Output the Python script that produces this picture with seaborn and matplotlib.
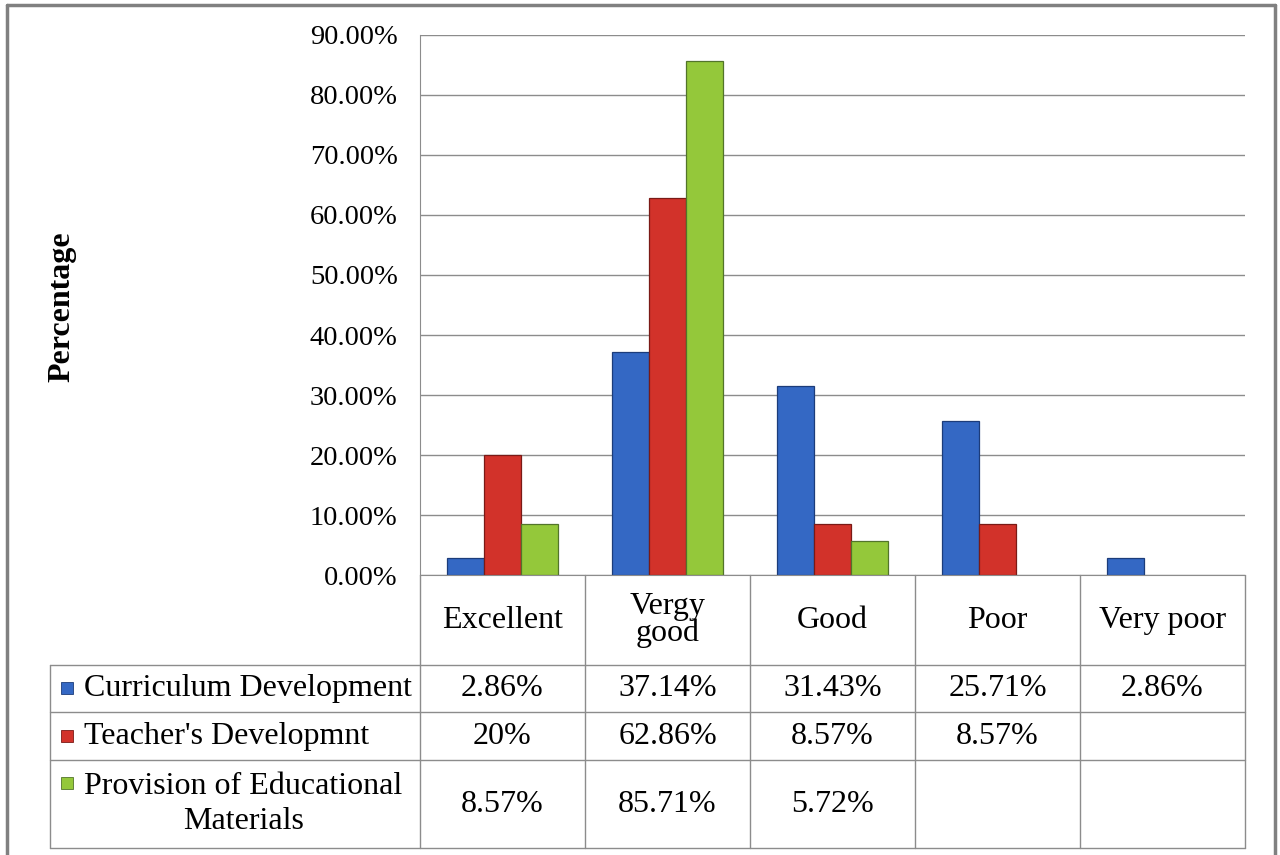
import numpy as np
import pandas as pd
import matplotlib
matplotlib.use("Agg")
import matplotlib.pyplot as plt
from matplotlib.patches import Rectangle
from matplotlib.lines import Line2D
import matplotlib.transforms as mtransforms
import seaborn as sns

# datos
categorias = ["Excellent", "Vergy\ngood", "Good", "Poor", "Very poor"]
series = ["Curriculum Development", "Teacher's Developmnt",
          "Provision of Educational\nMaterials"]
curriculum = [2.86, 37.14, 31.43, 25.71, 2.86]
teacher = [20, 62.86, 8.57, 8.57, None]
provision = [8.57, 85.71, 5.72, None, None]
colores = ["#3468c4", "#d2322a", "#94c83a"]
bordes = ["#1c3c7a", "#7a1a16", "#52742a"]

filas = []
for serie, valores in zip(series, [curriculum, teacher, provision]):
    for cat, v in zip(categorias, valores):
        filas.append({"Categoria": cat, "Serie": serie, "Valor": np.nan if v is None else v})
df = pd.DataFrame(filas)

sns.set_style("white")
plt.rcParams["font.family"] = ["Liberation Serif", "DejaVu Serif"]
plt.rcParams["text.color"] = "black"
plt.rcParams["ytick.color"] = "black"

fig = plt.figure(figsize=(12.8, 8.55), dpi=100)
ax = fig.add_axes([420 / 1280, 280 / 855, 825 / 1280, 540 / 855])

sns.barplot(data=df, x="Categoria", y="Valor", hue="Serie", palette=colores,
            saturation=1, width=0.67, gap=0, ax=ax, legend=False, linewidth=0.9)
# bordes oscuros por serie
for cont, ec in zip(ax.containers, bordes):
    for p in cont:
        p.set_edgecolor(ec)

ax.set_ylim(0, 90)
ax.set_xlim(-0.5, len(categorias) - 0.5)
ax.set_yticks(np.arange(0, 91, 10))
ax.set_yticklabels([f"{t:.2f}%" for t in np.arange(0, 91, 10)], fontsize=20.5)
ax.yaxis.grid(True, color="#8c8c8c", linewidth=1)
ax.set_axisbelow(True)
ax.set_xticks([])
ax.set_xlabel("")
ax.set_ylabel("")
ax.tick_params(axis="y", length=0, pad=16, labelcolor="black")
for s in ["top", "right"]:
    ax.spines[s].set_visible(False)
ax.spines["left"].set_color("#8c8c8c")
ax.spines["bottom"].set_color("#8c8c8c")

fig.text(62 / 1280, 1 - 307 / 855, "Percentage", rotation=90, fontsize=23,
         fontweight="bold", ha="center", va="center")

# tabla de datos bajo el grafico
tr = mtransforms.blended_transform_factory(ax.transData, ax.transAxes)
px = 1 / 540
y_head = -90 * px
y_rows = [y_head, -137 * px, -185 * px, -273 * px]
x_left = -0.5 - 370 / 165
x_right = len(categorias) - 0.5
lc = "#8c8c8c"
fs = 23


def linea(x0, x1, y0, y1):
    ax.add_line(Line2D([x0, x1], [y0, y1], transform=tr, color=lc, lw=1, clip_on=False))


for y in y_rows:
    linea(x_left, x_right, y, y)
for i in range(len(categorias) + 1):
    linea(i - 0.5, i - 0.5, 0, y_rows[-1])
linea(x_left, x_left, y_head, y_rows[-1])

for i, cat in enumerate(categorias):
    ax.text(i, y_head / 2, cat, transform=tr, ha="center", va="center",
            fontsize=fs, linespacing=0.9)

x_lbl = -0.5 - 336 / 165
for r, (serie, valores) in enumerate(zip(series, [curriculum, teacher, provision])):
    y0, y1 = y_rows[r], y_rows[r + 1]
    yc = (y0 + y1) / 2
    ax.text(x_lbl, yc, serie, transform=tr, ha="left", va="center",
            multialignment="center", fontsize=fs, linespacing=1.3)
    for i, v in enumerate(valores):
        if v is not None:
            ax.text(i, yc, f"{v:g}%", transform=tr, ha="center", va="center", fontsize=fs)

# cuadritos de leyenda
key_y = [688, 736, 783]
for c, ec, yk in zip(colores, bordes, key_y):
    fig.patches.append(Rectangle((61 / 1280, 1 - (yk + 6) / 855), 12 / 1280, 12 / 855,
                                 transform=fig.transFigure, facecolor=c, edgecolor=ec, lw=0.6))

# marco exterior
for xs, ys in [([7, 7], [855, 5]), ([7, 1275], [5, 5]), ([1275, 1275], [5, 855])]:
    fig.lines.append(Line2D([x / 1280 for x in xs], [1 - y / 855 for y in ys],
                            transform=fig.transFigure, color="#808080", lw=2.5))

fig.savefig("out.png", dpi=100)
